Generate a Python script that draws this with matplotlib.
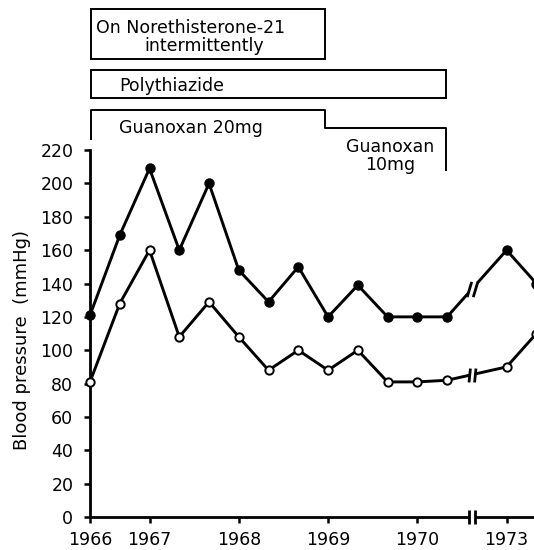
import numpy as np
import matplotlib
matplotlib.use("Agg")
import matplotlib.pyplot as plt
from matplotlib.patches import Rectangle
from matplotlib.path import Path

# visits every 4 months; 1973 readings come after the axis break
pos_before = list(range(13))
pos_after = [14, 15]
systolic_before = [121, 169, 209, 160, 200, 148, 129, 150, 120, 139, 120, 120, 120]
systolic_after = [160, 140]
diastolic_before = [81, 128, 160, 108, 129, 108, 88, 100, 88, 100, 81, 81, 82]
diastolic_after = [90, 110]

year_ticks = [0, 2, 5, 8, 11, 14]
year_labels = ["1966", "1967", "1968", "1969", "1970", "1973"]
y_ticks = list(range(0, 221, 20))
break_x = 12.85

plt.rcParams['font.family'] = ['DejaVu Sans']

fig = plt.figure(figsize=(5.34, 5.5), dpi=100)
ax = fig.add_axes([90 / 534, 33 / 550, 444 / 534, 517 / 550])
ax.set_xlim(0, 14.92)
ax.set_ylim(0, 310)

lw = 2.1
xs = pos_before + pos_after
ys_s = systolic_before + systolic_after
ys_d = diastolic_before + diastolic_after
ax.plot(xs, ys_s, color='black', lw=lw, zorder=3)
ax.plot(xs, ys_d, color='black', lw=lw, zorder=3)
ax.plot(xs, ys_s, 'o', color='black', ms=6.5, zorder=4, clip_on=False)
ax.plot(xs, ys_d, 'o', mfc='white', mec='black', mew=1.4, ms=6, zorder=4,
        clip_on=False)


def break_marker(tilt):
    # two parallel strokes
    w = 0.4
    verts = [(-w - tilt, -1), (-w + tilt, 1), (w - tilt, -1), (w + tilt, 1)]
    codes = [Path.MOVETO, Path.LINETO, Path.MOVETO, Path.LINETO]
    return Path(verts, codes)


def gap_marker(tilt):
    w = 0.4
    verts = [(-w - tilt, -1), (-w + tilt, 1), (w + tilt, 1),
             (w - tilt, -1), (-w - tilt, -1)]
    return Path(verts, closed=True)


def draw_break(x, y, tilt, size):
    ax.plot([x], [y], marker=gap_marker(tilt), ms=size, mfc='white',
            mec='none', zorder=5, clip_on=False)
    ax.plot([x], [y], marker=break_marker(tilt), ms=size, mfc='none',
            mec='black', mew=2.0, zorder=6, clip_on=False)


# breaks on each series and the x axis
draw_break(break_x, np.interp(break_x, xs, ys_s), 0.3, 11)
draw_break(break_x, np.interp(break_x, xs, ys_d), 0.1, 10)
draw_break(break_x, 0, 0.0, 10)

# axes styling
for s in ['top', 'right']:
    ax.spines[s].set_visible(False)
ax.spines['left'].set_bounds(0, 220)
ax.spines['left'].set_linewidth(2)
ax.spines['bottom'].set_linewidth(2)
ax.set_yticks(y_ticks)
ax.set_yticklabels([str(v) for v in y_ticks], fontsize=12.5)
ax.set_xticks(year_ticks)
ax.set_xticklabels(year_labels, fontsize=12.5)
ax.tick_params(axis='y', direction='out', length=4, width=1.8, pad=8)
ax.tick_params(axis='x', direction='out', length=4, width=1.8, pad=6)
fig.text(22 / 534, 1 - 340 / 550, "Blood pressure  (mmHg)", rotation=90,
         ha='center', va='center', fontsize=13)

# treatment boxes
box_kw = dict(fill=False, edgecolor='black', lw=1.4, clip_on=False)
ax.add_patch(Rectangle((0.03, 274.4), 7.87, 30.2, **box_kw))
ax.add_patch(Rectangle((0.03, 251.0), 11.94, 17.3, **box_kw))
ax.plot([0.03, 0.03, 7.9, 7.9, 11.97, 11.97],
        [226.4, 244.3, 244.3, 233.5, 233.5, 208.0],
        color='black', lw=1.4, clip_on=False)

ax.text(0.2, 293.3, "On Norethisterone-21", fontsize=12.5, va='center')
ax.text(3.83, 282.5, "intermittently", fontsize=12.5, va='center', ha='center')
ax.text(0.97, 258.5, "Polythiazide", fontsize=12.5, va='center')
ax.text(0.96, 233.0, "Guanoxan 20mg", fontsize=12.5, va='center')
ax.text(10.1, 216.5, "Guanoxan\n10mg", fontsize=12.5, va='center', ha='center',
        linespacing=0.95)

fig.savefig("out.png", dpi=100)
